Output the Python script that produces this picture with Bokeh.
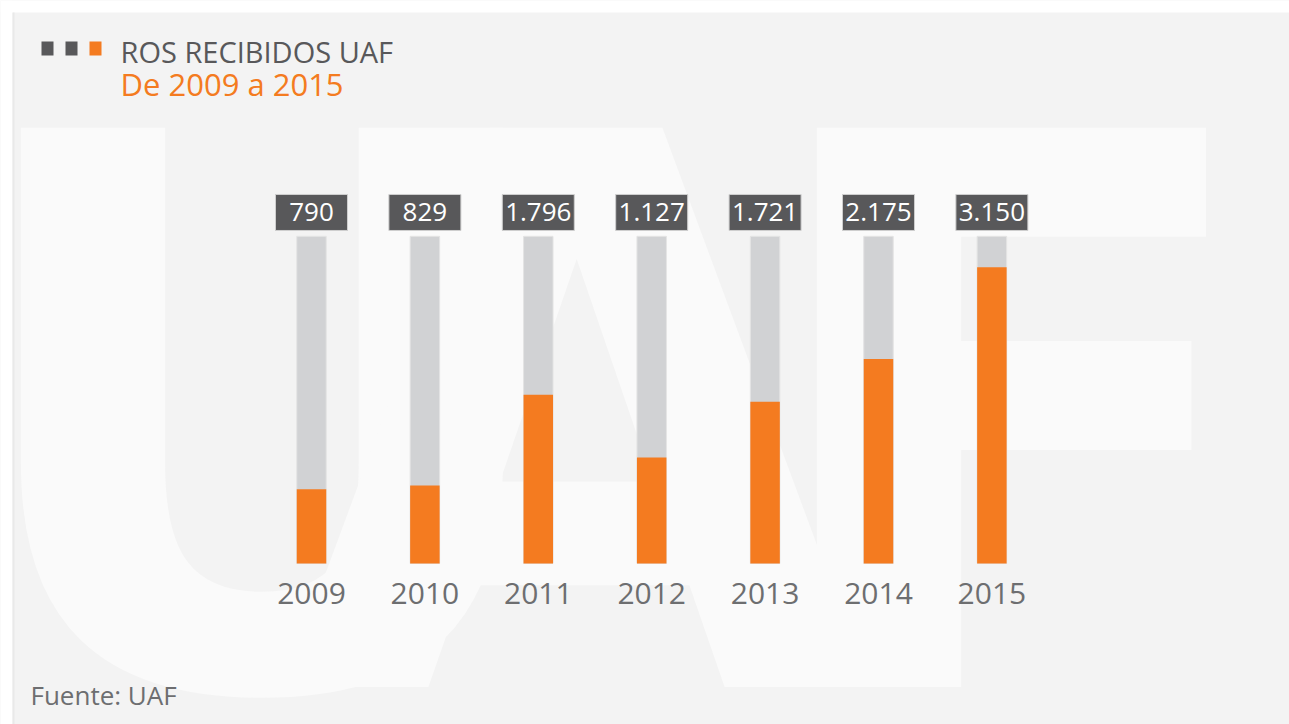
from bokeh.plotting import figure
from bokeh.models import Range1d, Label, BoxAnnotation, ColumnDataSource
from bokeh.core.properties import value
from bokeh.embed import file_html
from bokeh.resources import INLINE

# ---- data ----
years = [2009, 2010, 2011, 2012, 2013, 2014, 2015]
ros = [790, 829, 1796, 1127, 1721, 2175, 3150]
value_labels = ["790", "829", "1.796", "1.127", "1.721", "2.175", "3.150"]
year_labels = ["2009", "2010", "2011", "2012", "2013", "2014", "2015"]
track_max = 3480
title_text = "ROS RECIBIDOS UAF"
subtitle_text = "De 2009 a 2015"
source_text = "Fuente: UAF"
watermark = ["U", "A", "F"]

ORANGE = "#f47b20"
DARK = "#58585a"
TRACK = "#d1d2d4"
TEXT_GRAY = "#6d6e70"
PANEL = "#f3f3f3"
FONT = "Open Sans"

src = ColumnDataSource(dict(
    year=years,
    ros=ros,
    track=[track_max] * len(years),
    lab=value_labels,
    ylab=year_labels,
    box_y=[track_max + 254] * len(years),
    text_y=[track_max + 264] * len(years),
    year_y=[-321] * len(years),
))

p = figure(width=1289, height=724, output_backend="svg", toolbar_location=None,
           x_range=Range1d(2006.2575, 2017.6245), y_range=Range1d(-1713, 5989),
           x_axis_type=None, y_axis_type=None, min_border=0,
           background_fill_color=PANEL, border_fill_color="white",
           outline_line_color=None)
p.grid.visible = False

def sbox(l, r, b, t, c):
    return BoxAnnotation(left=l, right=r, bottom=b, top=t, left_units="screen",
                         right_units="screen", bottom_units="screen", top_units="screen",
                         fill_color=c, fill_alpha=1, line_color=None)

# white margins outside the panel
p.add_layout(sbox(0, 12, 0, 724, "white"))
p.add_layout(sbox(0, 1289, 712, 724, "white"))
p.add_layout(sbox(12, 14, 0, 712, "#e9e9e9"))

# watermark letters
wm_x = [-50, 576, 746]
wm_align = ["left", "center", "left"]
for ch, xx, al in zip(watermark, wm_x, wm_align):
    p.add_layout(Label(x=xx, y=303, x_units="screen", y_units="screen", text=ch,
                       text_font="DejaVu Sans", text_font_style="bold",
                       text_font_size="767px", text_color="#fafafa", text_align=al,
                       text_baseline="alphabetic", level="underlay"))

# bars
p.vbar(x="year", top="track", bottom=0, width=0.26, source=src,
       fill_color=TRACK, line_color="#e4e4e4", line_width=1)
p.vbar(x="year", top="ros", bottom=0, width=0.26, source=src,
       fill_color=ORANGE, line_color=None)

# value boxes
p.rect(x="year", y="box_y", width=72, height=36, width_units="screen",
       height_units="screen", source=src, fill_color=DARK, line_color="#cfcfcf",
       line_width=1)
p.text(x="year", y="text_y", text="lab", source=src, text_font=value(FONT),
       text_font_size="26px", text_color="white", text_align="center",
       text_baseline="alphabetic")

# year labels
p.text(x="year", y="year_y", text="ylab", source=src, text_font=value(FONT),
       text_font_size="30px", text_color=TEXT_GRAY, text_align="center",
       text_baseline="alphabetic")

# title squares
for l, r, c in [(41, 53, DARK), (65, 77, DARK), (89, 101, ORANGE)]:
    p.add_layout(sbox(l, r, 669, 683, c))

p.add_layout(Label(x=120, y=673, x_units="screen", y_units="screen", text=title_text,
                   text_font=FONT, text_font_size="29px", text_color=DARK,
                   text_baseline="alphabetic"))
p.add_layout(Label(x=120, y=641, x_units="screen", y_units="screen", text=subtitle_text,
                   text_font=FONT, text_font_size="31px", text_color=ORANGE,
                   text_baseline="alphabetic"))
p.add_layout(Label(x=30, y=30, x_units="screen", y_units="screen", text=source_text,
                   text_font=FONT, text_font_size="26px", text_color=TEXT_GRAY,
                   text_baseline="alphabetic"))

open("out.html", "w").write(file_html(p, INLINE))
